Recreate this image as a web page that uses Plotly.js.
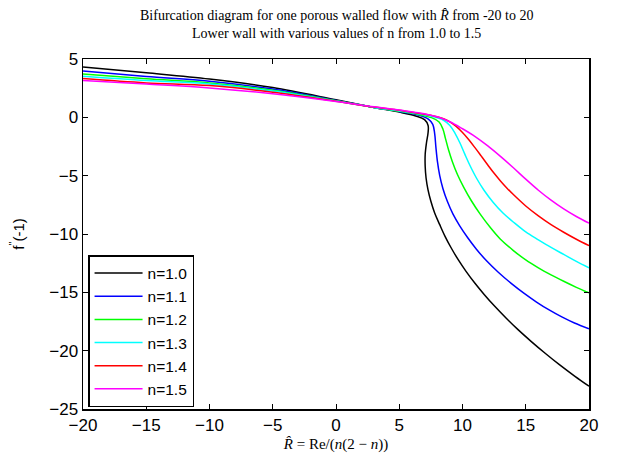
<!DOCTYPE html>
<html>
<head>
<meta charset="utf-8">
<script src="https://cdn.plot.ly/plotly-3.0.1.min.js"></script>
<style>html,body{margin:0;padding:0;background:#fff;}#chart{width:620px;height:459px;}</style>
</head>
<body>
<div id="chart"></div>
<script>
const seriesNames = ["n=1.0","n=1.1","n=1.2","n=1.3","n=1.4","n=1.5"];
const seriesColors = ["#000000","#0000ff","#00ff00","#00ffff","#ff0000","#ff00ff"];

const x10 = [-20,-15,-10,-5,0,3,5,6.3,7.0,7.28,7.28,7.15,7.05,7.05,7.12,7.27,7.5,7.8,8.2,8.62,9.11,9.66,10.28,10.97,11.73,12.55,13.44,14.39,15.42,16.51,17.66,18.89,20];
const y10 = [4.32,3.82,3.28,2.55,1.5,0.85,0.45,0.12,-0.2,-0.7,-1.3,-2.2,-3.2,-4.2,-5.2,-6.2,-7.2,-8.2,-9.2,-10.2,-11.2,-12.2,-13.2,-14.2,-15.2,-16.2,-17.2,-18.2,-19.2,-20.2,-21.2,-22.2,-23.05];

const x11 = [-20,-15,-10,-5,0,3,5,6.5,7.3,7.65,7.8,7.9,8.02,8.2,8.45,8.8,9.25,9.78,10.4,11.1,11.9,12.85,13.85,14.85,15.85,16.85,17.85,18.85,20];
const y11 = [3.97,3.5,3.1,2.42,1.45,0.85,0.5,0.2,-0.15,-0.6,-1.4,-2.6,-3.8,-5.0,-6.1,-7.2,-8.3,-9.3,-10.3,-11.3,-12.3,-13.3,-14.23,-15.07,-15.83,-16.51,-17.11,-17.63,-18.12];

const x12 = [-20,-15,-10,-5,0,3,5,6.5,7.6,8.15,8.45,8.65,8.9,9.2,9.6,10.1,10.7,11.4,12.2,13,14,15,16,17,18,19,20];
const y12 = [3.72,3.3,2.95,2.32,1.42,0.85,0.52,0.25,-0.05,-0.4,-1.0,-1.8,-2.8,-3.8,-4.9,-6.0,-7.15,-8.3,-9.45,-10.45,-11.4,-12.22,-12.9,-13.5,-14.05,-14.57,-15.05];

const x13 = [-20,-15,-10,-5,0,3,5,6.5,7.7,8.5,9.0,9.4,9.8,10.2,10.6,11.1,11.7,12.4,13.2,14.1,15,16,17,18,19,20];
const y13 = [3.52,3.15,2.86,2.25,1.4,0.85,0.55,0.3,0.05,-0.25,-0.7,-1.35,-2.2,-3.2,-4.15,-5.2,-6.25,-7.25,-8.2,-9.05,-9.82,-10.5,-11.15,-11.75,-12.35,-12.9];

const x14 = [-20,-15,-10,-5,0,3,5,6.5,7.8,8.5,9.0,9.5,10,10.5,11,11.5,12,12.5,13,13.5,14,15,16,17,18,19,20];
const y14 = [3.32,2.95,2.72,2.15,1.38,0.88,0.6,0.35,0.1,-0.12,-0.38,-0.78,-1.3,-1.92,-2.62,-3.35,-4.08,-4.8,-5.45,-6.05,-6.6,-7.6,-8.45,-9.2,-9.85,-10.45,-11.0];

const x15 = [-20,-15,-10,-5,0,3,5,6.5,8,9,10,11,12,13,14,15,16,17,18,19,20];
const y15 = [3.15,2.85,2.52,2.02,1.36,0.9,0.62,0.4,0.05,-0.38,-0.98,-1.65,-2.45,-3.35,-4.3,-5.3,-6.25,-7.1,-7.85,-8.5,-9.07];

const xs = [x10,x11,x12,x13,x14,x15];
const ys = [y10,y11,y12,y13,y14,y15];

const xTicks = [-20,-15,-10,-5,0,5,10,15,20];
const yTicks = [-25,-20,-15,-10,-5,0,5];
const titleLines = [
  "Bifurcation diagram for one porous walled flow with <i>R\u0302</i> from -20 to 20",
  "Lower wall with various values of n from 1.0 to 1.5"
];

const traces = seriesNames.map((name,i)=>({
  x: xs[i], y: ys[i], name: name, type: 'scatter', mode: 'lines',
  line: {color: seriesColors[i], width: 1.5, shape: 'spline', smoothing: 1.0}
}));

const sans = "Liberation Sans, Arial, sans-serif";
const serif = "Liberation Serif, Times New Roman, serif";
const tickFmt = v => (v<0 ? "\u2212"+Math.abs(v) : String(v));

const layout = {
  width: 620, height: 459,
  margin: {l: 83, r: 31, t: 59, b: 50},
  paper_bgcolor: '#ffffff', plot_bgcolor: '#ffffff',
  showlegend: true,
  annotations: [
    {text: titleLines[0], xref: 'paper', yref: 'paper', x: 0.5, y: 1.123, xanchor: 'center', yanchor: 'middle', showarrow: false, font: {family: serif, size: 14, color: '#000'}},
    {text: titleLines[1], xref: 'paper', yref: 'paper', x: 0.5, y: 1.074, xanchor: 'center', yanchor: 'middle', showarrow: false, font: {family: serif, size: 14, color: '#000'}}
  ],
  xaxis: {
    range: [-20, 20], tickvals: xTicks, ticktext: xTicks.map(tickFmt),
    ticks: 'inside', ticklen: 5, tickwidth: 1, tickcolor: '#000',
    showline: true, linecolor: '#000', linewidth: 1.5, mirror: 'ticks',
    showgrid: false, zeroline: false,
    tickfont: {family: sans, size: 17, color: '#000'},
    title: {text: "<i>R\u0302</i> = Re/(<i>n</i>(2 \u2212 <i>n</i>))", font: {family: serif, size: 15, color: '#000'}, standoff: 4}
  },
  yaxis: {
    range: [-25, 5], tickvals: yTicks, ticktext: yTicks.map(tickFmt),
    ticks: 'inside', ticklen: 5, tickwidth: 1, tickcolor: '#000',
    showline: true, linecolor: '#000', linewidth: 1.5, mirror: 'ticks',
    showgrid: false, zeroline: false,
    tickfont: {family: sans, size: 17, color: '#000'},
    title: {text: "f<sup>''</sup>(-1)", font: {family: sans, size: 15, color: '#000'}, standoff: 21}
  },
  legend: {
    x: 0.01, y: 0.44, xanchor: 'left', yanchor: 'top',
    bgcolor: '#ffffff', bordercolor: '#000', borderwidth: 1.5,
    font: {family: sans, size: 15.5, color: '#000'},
    tracegroupgap: 0, itemwidth: 48
  }
};

Plotly.newPlot('chart', traces, layout, {displayModeBar: false, staticPlot: true});
</script>
</body>
</html>
